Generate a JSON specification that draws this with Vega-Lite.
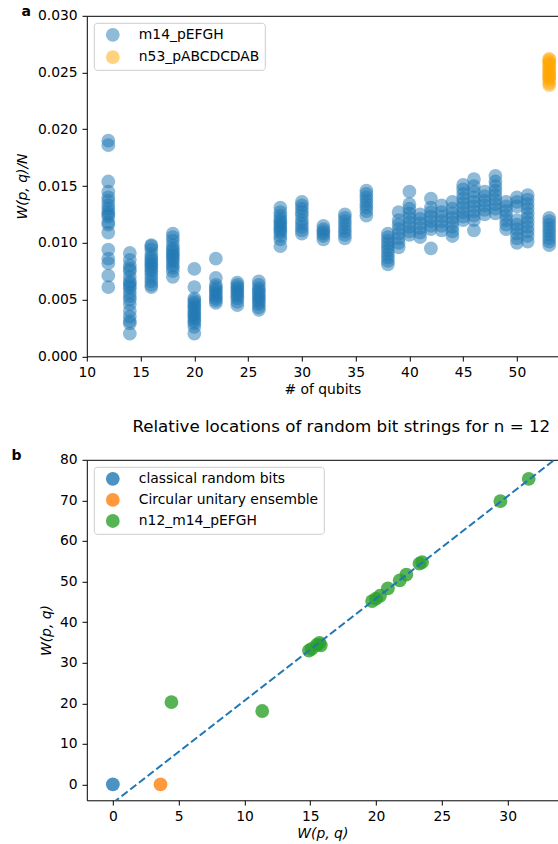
{
  "$schema": "https://vega.github.io/schema/vega-lite/v6.json",
  "background": "white",
  "padding": {"left": 10.8, "top": 4.8, "right": 0, "bottom": 0},
  "spacing": 22,
  "config": {
    "font": "DejaVu Sans",
    "view": {"stroke": null},
    "axis": {
      "grid": false,
      "domainColor": "black",
      "domainWidth": 1,
      "tickColor": "black",
      "tickWidth": 1,
      "tickSize": 4.8,
      "labelPadding": 4.8,
      "labelFont": "DejaVu Sans",
      "labelFontSize": 13.9,
      "labelColor": "black",
      "labelFlush": false,
      "labelOverlap": false,
      "titleFont": "DejaVu Sans",
      "titleFontSize": 13.9,
      "titleFontWeight": "normal",
      "titleColor": "black"
    },
    "legend": {
      "orient": "top-left",
      "offset": 7,
      "padding": 5,
      "symbolType": "circle",
      "symbolSize": 190,
      "symbolStrokeWidth": 0,
      "symbolOffset": 7,
      "labelOffset": 19,
      "labelFont": "DejaVu Sans",
      "labelFontSize": 13.9,
      "labelColor": "black",
      "labelLimit": 400,
      "strokeColor": "#cccccc",
      "fillColor": "rgba(255,255,255,0.8)",
      "cornerRadius": 3
    }
  },
  "datasets": {
    "m14": [
      {"qubits": 12, "W": 0.0190, "circuit": "m14_pEFGH"},
      {"qubits": 12, "W": 0.0186, "circuit": "m14_pEFGH"},
      {"qubits": 12, "W": 0.0154, "circuit": "m14_pEFGH"},
      {"qubits": 12, "W": 0.0145, "circuit": "m14_pEFGH"},
      {"qubits": 12, "W": 0.0140, "circuit": "m14_pEFGH"},
      {"qubits": 12, "W": 0.0137, "circuit": "m14_pEFGH"},
      {"qubits": 12, "W": 0.0133, "circuit": "m14_pEFGH"},
      {"qubits": 12, "W": 0.0130, "circuit": "m14_pEFGH"},
      {"qubits": 12, "W": 0.0127, "circuit": "m14_pEFGH"},
      {"qubits": 12, "W": 0.0125, "circuit": "m14_pEFGH"},
      {"qubits": 12, "W": 0.0123, "circuit": "m14_pEFGH"},
      {"qubits": 12, "W": 0.0118, "circuit": "m14_pEFGH"},
      {"qubits": 12, "W": 0.0116, "circuit": "m14_pEFGH"},
      {"qubits": 12, "W": 0.0109, "circuit": "m14_pEFGH"},
      {"qubits": 12, "W": 0.0094, "circuit": "m14_pEFGH"},
      {"qubits": 12, "W": 0.0086, "circuit": "m14_pEFGH"},
      {"qubits": 12, "W": 0.0082, "circuit": "m14_pEFGH"},
      {"qubits": 12, "W": 0.0071, "circuit": "m14_pEFGH"},
      {"qubits": 12, "W": 0.0061, "circuit": "m14_pEFGH"},
      {"qubits": 14, "W": 0.0091, "circuit": "m14_pEFGH"},
      {"qubits": 14, "W": 0.0085, "circuit": "m14_pEFGH"},
      {"qubits": 14, "W": 0.0080, "circuit": "m14_pEFGH"},
      {"qubits": 14, "W": 0.0077, "circuit": "m14_pEFGH"},
      {"qubits": 14, "W": 0.0075, "circuit": "m14_pEFGH"},
      {"qubits": 14, "W": 0.0070, "circuit": "m14_pEFGH"},
      {"qubits": 14, "W": 0.0066, "circuit": "m14_pEFGH"},
      {"qubits": 14, "W": 0.0064, "circuit": "m14_pEFGH"},
      {"qubits": 14, "W": 0.0062, "circuit": "m14_pEFGH"},
      {"qubits": 14, "W": 0.0060, "circuit": "m14_pEFGH"},
      {"qubits": 14, "W": 0.0056, "circuit": "m14_pEFGH"},
      {"qubits": 14, "W": 0.0053, "circuit": "m14_pEFGH"},
      {"qubits": 14, "W": 0.0050, "circuit": "m14_pEFGH"},
      {"qubits": 14, "W": 0.0046, "circuit": "m14_pEFGH"},
      {"qubits": 14, "W": 0.0040, "circuit": "m14_pEFGH"},
      {"qubits": 14, "W": 0.0035, "circuit": "m14_pEFGH"},
      {"qubits": 14, "W": 0.0031, "circuit": "m14_pEFGH"},
      {"qubits": 14, "W": 0.0029, "circuit": "m14_pEFGH"},
      {"qubits": 14, "W": 0.0020, "circuit": "m14_pEFGH"},
      {"qubits": 16, "W": 0.0098, "circuit": "m14_pEFGH"},
      {"qubits": 16, "W": 0.0097, "circuit": "m14_pEFGH"},
      {"qubits": 16, "W": 0.0094, "circuit": "m14_pEFGH"},
      {"qubits": 16, "W": 0.0090, "circuit": "m14_pEFGH"},
      {"qubits": 16, "W": 0.0087, "circuit": "m14_pEFGH"},
      {"qubits": 16, "W": 0.0085, "circuit": "m14_pEFGH"},
      {"qubits": 16, "W": 0.0083, "circuit": "m14_pEFGH"},
      {"qubits": 16, "W": 0.0081, "circuit": "m14_pEFGH"},
      {"qubits": 16, "W": 0.0079, "circuit": "m14_pEFGH"},
      {"qubits": 16, "W": 0.0077, "circuit": "m14_pEFGH"},
      {"qubits": 16, "W": 0.0075, "circuit": "m14_pEFGH"},
      {"qubits": 16, "W": 0.0072, "circuit": "m14_pEFGH"},
      {"qubits": 16, "W": 0.0069, "circuit": "m14_pEFGH"},
      {"qubits": 16, "W": 0.0066, "circuit": "m14_pEFGH"},
      {"qubits": 16, "W": 0.0063, "circuit": "m14_pEFGH"},
      {"qubits": 16, "W": 0.0061, "circuit": "m14_pEFGH"},
      {"qubits": 18, "W": 0.0108, "circuit": "m14_pEFGH"},
      {"qubits": 18, "W": 0.0105, "circuit": "m14_pEFGH"},
      {"qubits": 18, "W": 0.0102, "circuit": "m14_pEFGH"},
      {"qubits": 18, "W": 0.0098, "circuit": "m14_pEFGH"},
      {"qubits": 18, "W": 0.0095, "circuit": "m14_pEFGH"},
      {"qubits": 18, "W": 0.0093, "circuit": "m14_pEFGH"},
      {"qubits": 18, "W": 0.0091, "circuit": "m14_pEFGH"},
      {"qubits": 18, "W": 0.0089, "circuit": "m14_pEFGH"},
      {"qubits": 18, "W": 0.0087, "circuit": "m14_pEFGH"},
      {"qubits": 18, "W": 0.0085, "circuit": "m14_pEFGH"},
      {"qubits": 18, "W": 0.0083, "circuit": "m14_pEFGH"},
      {"qubits": 18, "W": 0.0080, "circuit": "m14_pEFGH"},
      {"qubits": 18, "W": 0.0078, "circuit": "m14_pEFGH"},
      {"qubits": 18, "W": 0.0075, "circuit": "m14_pEFGH"},
      {"qubits": 18, "W": 0.0070, "circuit": "m14_pEFGH"},
      {"qubits": 20, "W": 0.0077, "circuit": "m14_pEFGH"},
      {"qubits": 20, "W": 0.0061, "circuit": "m14_pEFGH"},
      {"qubits": 20, "W": 0.0051, "circuit": "m14_pEFGH"},
      {"qubits": 20, "W": 0.0049, "circuit": "m14_pEFGH"},
      {"qubits": 20, "W": 0.0047, "circuit": "m14_pEFGH"},
      {"qubits": 20, "W": 0.0045, "circuit": "m14_pEFGH"},
      {"qubits": 20, "W": 0.0043, "circuit": "m14_pEFGH"},
      {"qubits": 20, "W": 0.0041, "circuit": "m14_pEFGH"},
      {"qubits": 20, "W": 0.0039, "circuit": "m14_pEFGH"},
      {"qubits": 20, "W": 0.0037, "circuit": "m14_pEFGH"},
      {"qubits": 20, "W": 0.0035, "circuit": "m14_pEFGH"},
      {"qubits": 20, "W": 0.0033, "circuit": "m14_pEFGH"},
      {"qubits": 20, "W": 0.0031, "circuit": "m14_pEFGH"},
      {"qubits": 20, "W": 0.0029, "circuit": "m14_pEFGH"},
      {"qubits": 20, "W": 0.0026, "circuit": "m14_pEFGH"},
      {"qubits": 20, "W": 0.0020, "circuit": "m14_pEFGH"},
      {"qubits": 22, "W": 0.0086, "circuit": "m14_pEFGH"},
      {"qubits": 22, "W": 0.0069, "circuit": "m14_pEFGH"},
      {"qubits": 22, "W": 0.0063, "circuit": "m14_pEFGH"},
      {"qubits": 22, "W": 0.0061, "circuit": "m14_pEFGH"},
      {"qubits": 22, "W": 0.0059, "circuit": "m14_pEFGH"},
      {"qubits": 22, "W": 0.0057, "circuit": "m14_pEFGH"},
      {"qubits": 22, "W": 0.0055, "circuit": "m14_pEFGH"},
      {"qubits": 22, "W": 0.0053, "circuit": "m14_pEFGH"},
      {"qubits": 22, "W": 0.0051, "circuit": "m14_pEFGH"},
      {"qubits": 22, "W": 0.0049, "circuit": "m14_pEFGH"},
      {"qubits": 22, "W": 0.0047, "circuit": "m14_pEFGH"},
      {"qubits": 24, "W": 0.0065, "circuit": "m14_pEFGH"},
      {"qubits": 24, "W": 0.0063, "circuit": "m14_pEFGH"},
      {"qubits": 24, "W": 0.0061, "circuit": "m14_pEFGH"},
      {"qubits": 24, "W": 0.0059, "circuit": "m14_pEFGH"},
      {"qubits": 24, "W": 0.0057, "circuit": "m14_pEFGH"},
      {"qubits": 24, "W": 0.0055, "circuit": "m14_pEFGH"},
      {"qubits": 24, "W": 0.0053, "circuit": "m14_pEFGH"},
      {"qubits": 24, "W": 0.0051, "circuit": "m14_pEFGH"},
      {"qubits": 24, "W": 0.0048, "circuit": "m14_pEFGH"},
      {"qubits": 24, "W": 0.0045, "circuit": "m14_pEFGH"},
      {"qubits": 26, "W": 0.0066, "circuit": "m14_pEFGH"},
      {"qubits": 26, "W": 0.0063, "circuit": "m14_pEFGH"},
      {"qubits": 26, "W": 0.0060, "circuit": "m14_pEFGH"},
      {"qubits": 26, "W": 0.0058, "circuit": "m14_pEFGH"},
      {"qubits": 26, "W": 0.0056, "circuit": "m14_pEFGH"},
      {"qubits": 26, "W": 0.0054, "circuit": "m14_pEFGH"},
      {"qubits": 26, "W": 0.0052, "circuit": "m14_pEFGH"},
      {"qubits": 26, "W": 0.0050, "circuit": "m14_pEFGH"},
      {"qubits": 26, "W": 0.0048, "circuit": "m14_pEFGH"},
      {"qubits": 26, "W": 0.0046, "circuit": "m14_pEFGH"},
      {"qubits": 26, "W": 0.0043, "circuit": "m14_pEFGH"},
      {"qubits": 26, "W": 0.0041, "circuit": "m14_pEFGH"},
      {"qubits": 28, "W": 0.0131, "circuit": "m14_pEFGH"},
      {"qubits": 28, "W": 0.0127, "circuit": "m14_pEFGH"},
      {"qubits": 28, "W": 0.0124, "circuit": "m14_pEFGH"},
      {"qubits": 28, "W": 0.0121, "circuit": "m14_pEFGH"},
      {"qubits": 28, "W": 0.0119, "circuit": "m14_pEFGH"},
      {"qubits": 28, "W": 0.0117, "circuit": "m14_pEFGH"},
      {"qubits": 28, "W": 0.0115, "circuit": "m14_pEFGH"},
      {"qubits": 28, "W": 0.0113, "circuit": "m14_pEFGH"},
      {"qubits": 28, "W": 0.0111, "circuit": "m14_pEFGH"},
      {"qubits": 28, "W": 0.0109, "circuit": "m14_pEFGH"},
      {"qubits": 28, "W": 0.0106, "circuit": "m14_pEFGH"},
      {"qubits": 28, "W": 0.0103, "circuit": "m14_pEFGH"},
      {"qubits": 28, "W": 0.0097, "circuit": "m14_pEFGH"},
      {"qubits": 30, "W": 0.0136, "circuit": "m14_pEFGH"},
      {"qubits": 30, "W": 0.0133, "circuit": "m14_pEFGH"},
      {"qubits": 30, "W": 0.0130, "circuit": "m14_pEFGH"},
      {"qubits": 30, "W": 0.0127, "circuit": "m14_pEFGH"},
      {"qubits": 30, "W": 0.0124, "circuit": "m14_pEFGH"},
      {"qubits": 30, "W": 0.0120, "circuit": "m14_pEFGH"},
      {"qubits": 30, "W": 0.0117, "circuit": "m14_pEFGH"},
      {"qubits": 30, "W": 0.0114, "circuit": "m14_pEFGH"},
      {"qubits": 30, "W": 0.0111, "circuit": "m14_pEFGH"},
      {"qubits": 30, "W": 0.0108, "circuit": "m14_pEFGH"},
      {"qubits": 32, "W": 0.0115, "circuit": "m14_pEFGH"},
      {"qubits": 32, "W": 0.0112, "circuit": "m14_pEFGH"},
      {"qubits": 32, "W": 0.0110, "circuit": "m14_pEFGH"},
      {"qubits": 32, "W": 0.0108, "circuit": "m14_pEFGH"},
      {"qubits": 32, "W": 0.0106, "circuit": "m14_pEFGH"},
      {"qubits": 32, "W": 0.0103, "circuit": "m14_pEFGH"},
      {"qubits": 34, "W": 0.0125, "circuit": "m14_pEFGH"},
      {"qubits": 34, "W": 0.0122, "circuit": "m14_pEFGH"},
      {"qubits": 34, "W": 0.0119, "circuit": "m14_pEFGH"},
      {"qubits": 34, "W": 0.0116, "circuit": "m14_pEFGH"},
      {"qubits": 34, "W": 0.0113, "circuit": "m14_pEFGH"},
      {"qubits": 34, "W": 0.0110, "circuit": "m14_pEFGH"},
      {"qubits": 34, "W": 0.0107, "circuit": "m14_pEFGH"},
      {"qubits": 34, "W": 0.0104, "circuit": "m14_pEFGH"},
      {"qubits": 36, "W": 0.0146, "circuit": "m14_pEFGH"},
      {"qubits": 36, "W": 0.0143, "circuit": "m14_pEFGH"},
      {"qubits": 36, "W": 0.0140, "circuit": "m14_pEFGH"},
      {"qubits": 36, "W": 0.0137, "circuit": "m14_pEFGH"},
      {"qubits": 36, "W": 0.0134, "circuit": "m14_pEFGH"},
      {"qubits": 36, "W": 0.0131, "circuit": "m14_pEFGH"},
      {"qubits": 36, "W": 0.0128, "circuit": "m14_pEFGH"},
      {"qubits": 36, "W": 0.0124, "circuit": "m14_pEFGH"},
      {"qubits": 38, "W": 0.0108, "circuit": "m14_pEFGH"},
      {"qubits": 38, "W": 0.0105, "circuit": "m14_pEFGH"},
      {"qubits": 38, "W": 0.0102, "circuit": "m14_pEFGH"},
      {"qubits": 38, "W": 0.0099, "circuit": "m14_pEFGH"},
      {"qubits": 38, "W": 0.0096, "circuit": "m14_pEFGH"},
      {"qubits": 38, "W": 0.0093, "circuit": "m14_pEFGH"},
      {"qubits": 38, "W": 0.0090, "circuit": "m14_pEFGH"},
      {"qubits": 38, "W": 0.0087, "circuit": "m14_pEFGH"},
      {"qubits": 38, "W": 0.0084, "circuit": "m14_pEFGH"},
      {"qubits": 38, "W": 0.0081, "circuit": "m14_pEFGH"},
      {"qubits": 39, "W": 0.0127, "circuit": "m14_pEFGH"},
      {"qubits": 39, "W": 0.0120, "circuit": "m14_pEFGH"},
      {"qubits": 39, "W": 0.0116, "circuit": "m14_pEFGH"},
      {"qubits": 39, "W": 0.0112, "circuit": "m14_pEFGH"},
      {"qubits": 39, "W": 0.0108, "circuit": "m14_pEFGH"},
      {"qubits": 39, "W": 0.0104, "circuit": "m14_pEFGH"},
      {"qubits": 39, "W": 0.0100, "circuit": "m14_pEFGH"},
      {"qubits": 39, "W": 0.0096, "circuit": "m14_pEFGH"},
      {"qubits": 40, "W": 0.0145, "circuit": "m14_pEFGH"},
      {"qubits": 40, "W": 0.0134, "circuit": "m14_pEFGH"},
      {"qubits": 40, "W": 0.0130, "circuit": "m14_pEFGH"},
      {"qubits": 40, "W": 0.0126, "circuit": "m14_pEFGH"},
      {"qubits": 40, "W": 0.0122, "circuit": "m14_pEFGH"},
      {"qubits": 40, "W": 0.0118, "circuit": "m14_pEFGH"},
      {"qubits": 40, "W": 0.0114, "circuit": "m14_pEFGH"},
      {"qubits": 40, "W": 0.0110, "circuit": "m14_pEFGH"},
      {"qubits": 40, "W": 0.0107, "circuit": "m14_pEFGH"},
      {"qubits": 41, "W": 0.0125, "circuit": "m14_pEFGH"},
      {"qubits": 41, "W": 0.0121, "circuit": "m14_pEFGH"},
      {"qubits": 41, "W": 0.0117, "circuit": "m14_pEFGH"},
      {"qubits": 41, "W": 0.0113, "circuit": "m14_pEFGH"},
      {"qubits": 41, "W": 0.0109, "circuit": "m14_pEFGH"},
      {"qubits": 41, "W": 0.0105, "circuit": "m14_pEFGH"},
      {"qubits": 42, "W": 0.0139, "circuit": "m14_pEFGH"},
      {"qubits": 42, "W": 0.0131, "circuit": "m14_pEFGH"},
      {"qubits": 42, "W": 0.0127, "circuit": "m14_pEFGH"},
      {"qubits": 42, "W": 0.0123, "circuit": "m14_pEFGH"},
      {"qubits": 42, "W": 0.0119, "circuit": "m14_pEFGH"},
      {"qubits": 42, "W": 0.0115, "circuit": "m14_pEFGH"},
      {"qubits": 42, "W": 0.0112, "circuit": "m14_pEFGH"},
      {"qubits": 42, "W": 0.0095, "circuit": "m14_pEFGH"},
      {"qubits": 43, "W": 0.0133, "circuit": "m14_pEFGH"},
      {"qubits": 43, "W": 0.0127, "circuit": "m14_pEFGH"},
      {"qubits": 43, "W": 0.0123, "circuit": "m14_pEFGH"},
      {"qubits": 43, "W": 0.0119, "circuit": "m14_pEFGH"},
      {"qubits": 43, "W": 0.0115, "circuit": "m14_pEFGH"},
      {"qubits": 43, "W": 0.0111, "circuit": "m14_pEFGH"},
      {"qubits": 44, "W": 0.0136, "circuit": "m14_pEFGH"},
      {"qubits": 44, "W": 0.0130, "circuit": "m14_pEFGH"},
      {"qubits": 44, "W": 0.0126, "circuit": "m14_pEFGH"},
      {"qubits": 44, "W": 0.0122, "circuit": "m14_pEFGH"},
      {"qubits": 44, "W": 0.0118, "circuit": "m14_pEFGH"},
      {"qubits": 44, "W": 0.0114, "circuit": "m14_pEFGH"},
      {"qubits": 44, "W": 0.0110, "circuit": "m14_pEFGH"},
      {"qubits": 44, "W": 0.0106, "circuit": "m14_pEFGH"},
      {"qubits": 45, "W": 0.0151, "circuit": "m14_pEFGH"},
      {"qubits": 45, "W": 0.0147, "circuit": "m14_pEFGH"},
      {"qubits": 45, "W": 0.0143, "circuit": "m14_pEFGH"},
      {"qubits": 45, "W": 0.0139, "circuit": "m14_pEFGH"},
      {"qubits": 45, "W": 0.0135, "circuit": "m14_pEFGH"},
      {"qubits": 45, "W": 0.0131, "circuit": "m14_pEFGH"},
      {"qubits": 45, "W": 0.0127, "circuit": "m14_pEFGH"},
      {"qubits": 45, "W": 0.0123, "circuit": "m14_pEFGH"},
      {"qubits": 45, "W": 0.0120, "circuit": "m14_pEFGH"},
      {"qubits": 46, "W": 0.0156, "circuit": "m14_pEFGH"},
      {"qubits": 46, "W": 0.0150, "circuit": "m14_pEFGH"},
      {"qubits": 46, "W": 0.0145, "circuit": "m14_pEFGH"},
      {"qubits": 46, "W": 0.0140, "circuit": "m14_pEFGH"},
      {"qubits": 46, "W": 0.0136, "circuit": "m14_pEFGH"},
      {"qubits": 46, "W": 0.0132, "circuit": "m14_pEFGH"},
      {"qubits": 46, "W": 0.0128, "circuit": "m14_pEFGH"},
      {"qubits": 46, "W": 0.0124, "circuit": "m14_pEFGH"},
      {"qubits": 46, "W": 0.0120, "circuit": "m14_pEFGH"},
      {"qubits": 46, "W": 0.0111, "circuit": "m14_pEFGH"},
      {"qubits": 47, "W": 0.0145, "circuit": "m14_pEFGH"},
      {"qubits": 47, "W": 0.0141, "circuit": "m14_pEFGH"},
      {"qubits": 47, "W": 0.0137, "circuit": "m14_pEFGH"},
      {"qubits": 47, "W": 0.0133, "circuit": "m14_pEFGH"},
      {"qubits": 47, "W": 0.0129, "circuit": "m14_pEFGH"},
      {"qubits": 47, "W": 0.0125, "circuit": "m14_pEFGH"},
      {"qubits": 48, "W": 0.0159, "circuit": "m14_pEFGH"},
      {"qubits": 48, "W": 0.0154, "circuit": "m14_pEFGH"},
      {"qubits": 48, "W": 0.0150, "circuit": "m14_pEFGH"},
      {"qubits": 48, "W": 0.0146, "circuit": "m14_pEFGH"},
      {"qubits": 48, "W": 0.0142, "circuit": "m14_pEFGH"},
      {"qubits": 48, "W": 0.0138, "circuit": "m14_pEFGH"},
      {"qubits": 48, "W": 0.0134, "circuit": "m14_pEFGH"},
      {"qubits": 48, "W": 0.0130, "circuit": "m14_pEFGH"},
      {"qubits": 48, "W": 0.0126, "circuit": "m14_pEFGH"},
      {"qubits": 49, "W": 0.0136, "circuit": "m14_pEFGH"},
      {"qubits": 49, "W": 0.0132, "circuit": "m14_pEFGH"},
      {"qubits": 49, "W": 0.0128, "circuit": "m14_pEFGH"},
      {"qubits": 49, "W": 0.0124, "circuit": "m14_pEFGH"},
      {"qubits": 49, "W": 0.0120, "circuit": "m14_pEFGH"},
      {"qubits": 49, "W": 0.0116, "circuit": "m14_pEFGH"},
      {"qubits": 49, "W": 0.0112, "circuit": "m14_pEFGH"},
      {"qubits": 50, "W": 0.0140, "circuit": "m14_pEFGH"},
      {"qubits": 50, "W": 0.0136, "circuit": "m14_pEFGH"},
      {"qubits": 50, "W": 0.0132, "circuit": "m14_pEFGH"},
      {"qubits": 50, "W": 0.0120, "circuit": "m14_pEFGH"},
      {"qubits": 50, "W": 0.0116, "circuit": "m14_pEFGH"},
      {"qubits": 50, "W": 0.0112, "circuit": "m14_pEFGH"},
      {"qubits": 50, "W": 0.0108, "circuit": "m14_pEFGH"},
      {"qubits": 50, "W": 0.0104, "circuit": "m14_pEFGH"},
      {"qubits": 50, "W": 0.0100, "circuit": "m14_pEFGH"},
      {"qubits": 51, "W": 0.0142, "circuit": "m14_pEFGH"},
      {"qubits": 51, "W": 0.0138, "circuit": "m14_pEFGH"},
      {"qubits": 51, "W": 0.0134, "circuit": "m14_pEFGH"},
      {"qubits": 51, "W": 0.0130, "circuit": "m14_pEFGH"},
      {"qubits": 51, "W": 0.0126, "circuit": "m14_pEFGH"},
      {"qubits": 51, "W": 0.0122, "circuit": "m14_pEFGH"},
      {"qubits": 51, "W": 0.0118, "circuit": "m14_pEFGH"},
      {"qubits": 51, "W": 0.0114, "circuit": "m14_pEFGH"},
      {"qubits": 51, "W": 0.0110, "circuit": "m14_pEFGH"},
      {"qubits": 51, "W": 0.0106, "circuit": "m14_pEFGH"},
      {"qubits": 51, "W": 0.0101, "circuit": "m14_pEFGH"},
      {"qubits": 53, "W": 0.0122, "circuit": "m14_pEFGH"},
      {"qubits": 53, "W": 0.0119, "circuit": "m14_pEFGH"},
      {"qubits": 53, "W": 0.0116, "circuit": "m14_pEFGH"},
      {"qubits": 53, "W": 0.0113, "circuit": "m14_pEFGH"},
      {"qubits": 53, "W": 0.0110, "circuit": "m14_pEFGH"},
      {"qubits": 53, "W": 0.0107, "circuit": "m14_pEFGH"},
      {"qubits": 53, "W": 0.0104, "circuit": "m14_pEFGH"},
      {"qubits": 53, "W": 0.0101, "circuit": "m14_pEFGH"},
      {"qubits": 53, "W": 0.0098, "circuit": "m14_pEFGH"}
    ],
    "n53": [
      {"qubits": 53, "W": 0.0239, "circuit": "n53_pABCDCDAB"},
      {"qubits": 53, "W": 0.0241, "circuit": "n53_pABCDCDAB"},
      {"qubits": 53, "W": 0.0244, "circuit": "n53_pABCDCDAB"},
      {"qubits": 53, "W": 0.0246, "circuit": "n53_pABCDCDAB"},
      {"qubits": 53, "W": 0.0247, "circuit": "n53_pABCDCDAB"},
      {"qubits": 53, "W": 0.0249, "circuit": "n53_pABCDCDAB"},
      {"qubits": 53, "W": 0.0251, "circuit": "n53_pABCDCDAB"},
      {"qubits": 53, "W": 0.0253, "circuit": "n53_pABCDCDAB"},
      {"qubits": 53, "W": 0.0255, "circuit": "n53_pABCDCDAB"},
      {"qubits": 53, "W": 0.0257, "circuit": "n53_pABCDCDAB"},
      {"qubits": 53, "W": 0.0259, "circuit": "n53_pABCDCDAB"},
      {"qubits": 53, "W": 0.0261, "circuit": "n53_pABCDCDAB"},
      {"qubits": 53, "W": 0.0262, "circuit": "n53_pABCDCDAB"}
    ],
    "strings": [
      {"Wx": 0, "Wy": 0, "source": "classical random bits"},
      {"Wx": 3.62, "Wy": 0, "source": "Circular unitary ensemble"},
      {"Wx": 4.45, "Wy": 20.3, "source": "n12_m14_pEFGH"},
      {"Wx": 11.35, "Wy": 18.1, "source": "n12_m14_pEFGH"},
      {"Wx": 14.9, "Wy": 33.0, "source": "n12_m14_pEFGH"},
      {"Wx": 15.1, "Wy": 33.4, "source": "n12_m14_pEFGH"},
      {"Wx": 15.5, "Wy": 34.4, "source": "n12_m14_pEFGH"},
      {"Wx": 15.7, "Wy": 34.9, "source": "n12_m14_pEFGH"},
      {"Wx": 15.8, "Wy": 34.3, "source": "n12_m14_pEFGH"},
      {"Wx": 19.7, "Wy": 45.2, "source": "n12_m14_pEFGH"},
      {"Wx": 20.0, "Wy": 45.8, "source": "n12_m14_pEFGH"},
      {"Wx": 20.3, "Wy": 46.5, "source": "n12_m14_pEFGH"},
      {"Wx": 20.9, "Wy": 48.3, "source": "n12_m14_pEFGH"},
      {"Wx": 21.8, "Wy": 50.3, "source": "n12_m14_pEFGH"},
      {"Wx": 22.3, "Wy": 51.7, "source": "n12_m14_pEFGH"},
      {"Wx": 23.3, "Wy": 54.4, "source": "n12_m14_pEFGH"},
      {"Wx": 23.5, "Wy": 54.8, "source": "n12_m14_pEFGH"},
      {"Wx": 29.45, "Wy": 69.8, "source": "n12_m14_pEFGH"},
      {"Wx": 31.6, "Wy": 75.3, "source": "n12_m14_pEFGH"}
    ],
    "fit": [
      {"Wx": 0, "Wy": -4.56},
      {"Wx": 34, "Wy": 81.12}
    ]
  },
  "resolve": {"scale": {"color": "independent"}, "legend": {"color": "independent"}},
  "vconcat": [
    {
      "width": 471,
      "height": 340.5,
      "title": {
        "text": "a", "orient": "left", "anchor": "end", "frame": "group",
        "angle": 0, "align": "right", "baseline": "alphabetic", "offset": -25,
        "font": "DejaVu Sans", "fontSize": 14, "fontWeight": "bold", "color": "black"
      },
      "resolve": {"scale": {"x": "independent"}, "axis": {"x": "independent"}},
      "layer": [
        {
          "data": {"name": "m14"},
          "mark": {"type": "point", "shape": "circle", "filled": true, "size": 190, "opacity": 0.5, "strokeWidth": 0},
          "encoding": {
            "x": {
              "field": "qubits", "type": "quantitative",
              "scale": {"domain": [10, 53.8], "nice": false, "zero": false},
              "axis": {"values": [10, 15, 20, 25, 30, 35, 40, 45, 50], "title": "# of qubits", "titlePadding": 3}
            },
            "y": {
              "field": "W", "type": "quantitative",
              "scale": {"domain": [0, 0.03], "nice": false},
              "axis": {"values": [0, 0.005, 0.01, 0.015, 0.02, 0.025, 0.03], "format": ".3f", "title": "W(p, q)/N", "titleFontStyle": "italic", "titlePadding": 8}
            },
            "color": {
              "field": "circuit", "type": "nominal",
              "scale": {"domain": ["m14_pEFGH", "n53_pABCDCDAB"], "range": ["#1f77b4", "#ffa500"]},
              "legend": {"title": null, "symbolOpacity": 0.5, "rowPadding": 8.4}
            }
          }
        },
        {
          "data": {"name": "n53"},
          "mark": {"type": "point", "shape": "circle", "filled": true, "size": 190, "opacity": 0.5, "strokeWidth": 0},
          "encoding": {
            "x": {
              "field": "qubits", "type": "quantitative",
              "scale": {"domain": [10, 53.8], "nice": false, "zero": false},
              "axis": {"orient": "top", "labels": false, "ticks": false, "title": null}
            },
            "y": {"field": "W", "type": "quantitative", "scale": {"domain": [0, 0.03], "nice": false}},
            "color": {
              "field": "circuit", "type": "nominal",
              "scale": {"domain": ["m14_pEFGH", "n53_pABCDCDAB"], "range": ["#1f77b4", "#ffa500"]},
              "legend": {"title": null, "symbolOpacity": 0.5, "rowPadding": 8.4}
            }
          }
        }
      ]
    },
    {
      "width": 471,
      "height": 340.5,
      "title": {
        "text": "b", "orient": "left", "anchor": "end", "frame": "group",
        "angle": 0, "align": "right", "baseline": "alphabetic", "offset": 7.4,
        "font": "DejaVu Sans", "fontSize": 14, "fontWeight": "bold", "color": "black"
      },
      "resolve": {"scale": {"x": "independent"}, "axis": {"x": "independent"}},
      "layer": [
        {
          "data": {"name": "strings"},
          "mark": {"type": "point", "shape": "circle", "filled": true, "size": 190, "opacity": 0.8, "strokeWidth": 0},
          "encoding": {
            "x": {
              "field": "Wx", "type": "quantitative",
              "scale": {"domain": [-1.98, 33.81], "nice": false, "zero": false},
              "axis": {"values": [0, 5, 10, 15, 20, 25, 30], "title": "W(p, q)", "titleFontStyle": "italic", "titlePadding": 3}
            },
            "y": {
              "field": "Wy", "type": "quantitative",
              "scale": {"domain": [-3.9, 80], "nice": false, "zero": false},
              "axis": {"values": [0, 10, 20, 30, 40, 50, 60, 70, 80], "title": "W(p, q)", "titleFontStyle": "italic", "titlePadding": 6.5}
            },
            "color": {
              "field": "source", "type": "nominal",
              "scale": {
                "domain": ["classical random bits", "Circular unitary ensemble", "n12_m14_pEFGH"],
                "range": ["#1f77b4", "#ff7f0e", "#2ca02c"]
              },
              "legend": {"title": null, "symbolOpacity": 0.8, "rowPadding": 7.1}
            }
          }
        },
        {
          "data": {"name": "fit"},
          "mark": {"type": "line", "clip": true, "color": "#1f77b4", "strokeWidth": 2.1, "strokeDash": [7.7, 3.3]},
          "encoding": {
            "x": {
              "field": "Wx", "type": "quantitative",
              "scale": {"domain": [-1.98, 33.81], "nice": false, "zero": false},
              "axis": {
                "orient": "top", "labels": false, "ticks": false,
                "title": "Relative locations of random bit strings for n = 12",
                "titleFontSize": 16.7, "titleBaseline": "alphabetic", "titlePadding": 28,
                "titleX": 254
              }
            },
            "y": {"field": "Wy", "type": "quantitative", "scale": {"domain": [-3.9, 80], "nice": false, "zero": false}}
          }
        }
      ]
    }
  ]
}
